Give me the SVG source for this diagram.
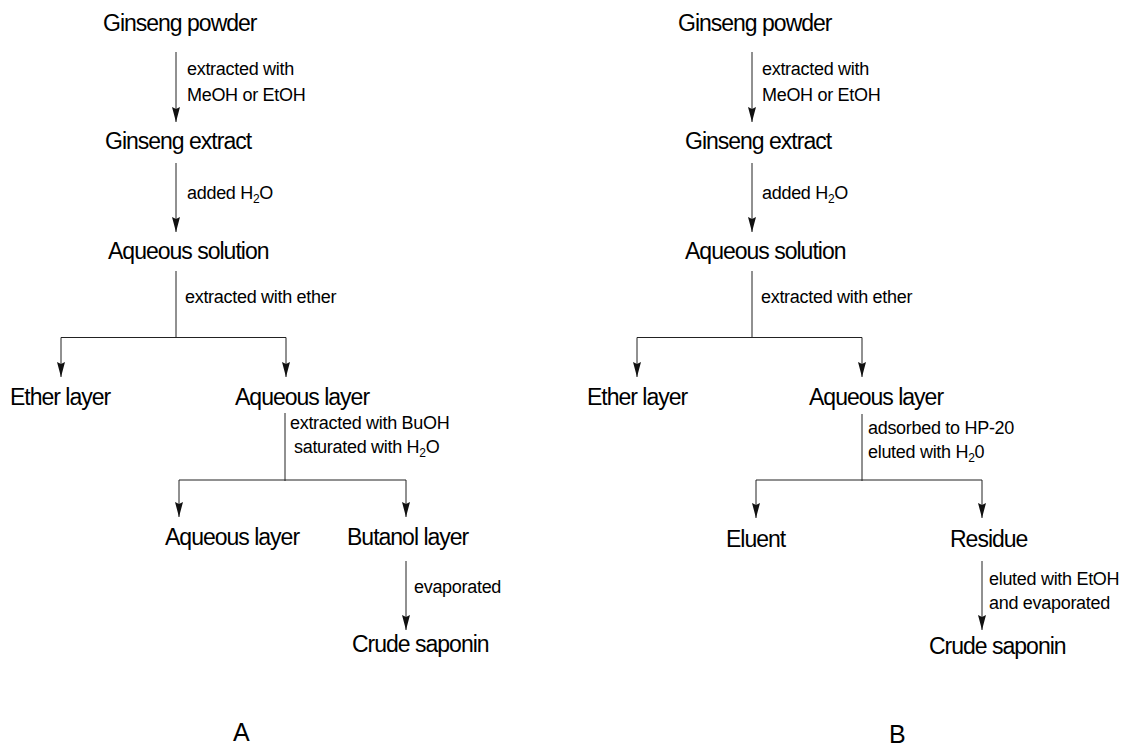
<svg xmlns="http://www.w3.org/2000/svg" width="1127" height="747" viewBox="0 0 1127 747">
<defs>
<style>
.node{font-family:"Liberation Sans",Arial,sans-serif;font-size:23px;letter-spacing:-1px;fill:#000}
.lbl{font-family:"Liberation Sans",Arial,sans-serif;font-size:18px;letter-spacing:-0.3px;fill:#000}
.sub{font-size:12px}
.cap{font-family:"Liberation Sans",Arial,sans-serif;font-size:25px;fill:#000}
.ln{stroke:#222;stroke-width:1;fill:none}
.arr{stroke:#222;stroke-width:1;fill:none;marker-end:url(#ah)}
</style>
<marker id="ah" markerUnits="userSpaceOnUse" viewBox="0 -5 16 10" markerWidth="16" markerHeight="10" refX="15" refY="0" orient="auto">
<path d="M0,-4 L15,0 L0,4 L2,0 Z" fill="#111"/>
</marker>
</defs>
<rect width="1127" height="747" fill="#fff"/>

<g id="connectors">
<line class="arr" x1="176" y1="52" x2="176" y2="122"/>
<line class="arr" x1="176" y1="163" x2="176" y2="232"/>
<line class="ln" x1="176" y1="271" x2="176" y2="337.5"/>
<line class="ln" x1="61" y1="337.5" x2="286" y2="337.5"/>
<line class="arr" x1="61" y1="337.5" x2="61" y2="377"/>
<line class="arr" x1="286" y1="337.5" x2="286" y2="377"/>
<line class="ln" x1="285" y1="413" x2="285" y2="481"/>
<line class="ln" x1="179" y1="480" x2="406" y2="480"/>
<line class="arr" x1="179" y1="480" x2="179" y2="517"/>
<line class="arr" x1="406" y1="480" x2="406" y2="517"/>
<line class="arr" x1="406" y1="561" x2="406" y2="630"/>
<line class="arr" x1="752" y1="52" x2="752" y2="122"/>
<line class="arr" x1="752" y1="163" x2="752" y2="232"/>
<line class="ln" x1="752" y1="271" x2="752" y2="337.5"/>
<line class="ln" x1="637" y1="337.5" x2="862" y2="337.5"/>
<line class="arr" x1="637" y1="337.5" x2="637" y2="377"/>
<line class="arr" x1="862" y1="337.5" x2="862" y2="377"/>
<line class="ln" x1="862" y1="414" x2="862" y2="481"/>
<line class="ln" x1="756" y1="480" x2="982" y2="480"/>
<line class="arr" x1="756" y1="480" x2="756" y2="518"/>
<line class="arr" x1="982" y1="480" x2="982" y2="518"/>
<line class="arr" x1="982" y1="561" x2="982" y2="630"/>
</g>

<g id="labels">
<text class="lbl" x="187" y="75">extracted with</text>
<text class="lbl" x="187" y="101">MeOH or EtOH</text>
<text class="lbl" x="187" y="199">added H<tspan class="sub" dy="4">2</tspan><tspan dy="-4">O</tspan></text>
<text class="lbl" x="185" y="303">extracted with ether</text>
<text class="lbl" x="290" y="429">extracted with BuOH</text>
<text class="lbl" x="294" y="453">saturated with H<tspan class="sub" dy="4">2</tspan><tspan dy="-4">O</tspan></text>
<text class="lbl" x="414" y="593">evaporated</text>
<text class="lbl" x="762" y="75">extracted with</text>
<text class="lbl" x="762" y="101">MeOH or EtOH</text>
<text class="lbl" x="762" y="199">added H<tspan class="sub" dy="4">2</tspan><tspan dy="-4">O</tspan></text>
<text class="lbl" x="761" y="303">extracted with ether</text>
<text class="lbl" x="868" y="434">adsorbed to HP-20</text>
<text class="lbl" x="868" y="458">eluted with H<tspan class="sub" dy="4">2</tspan><tspan dy="-4">0</tspan></text>
<text class="lbl" x="989" y="585">eluted with EtOH</text>
<text class="lbl" x="989" y="609">and evaporated</text>
</g>

<g id="A-powder"><text class="node" x="103" y="31">Ginseng powder</text></g>
<g id="A-extract"><text class="node" x="105" y="149">Ginseng extract</text></g>
<g id="A-solution"><text class="node" x="108" y="259">Aqueous solution</text></g>
<g id="A-ether"><text class="node" x="10" y="405">Ether layer</text></g>
<g id="A-aqueous1"><text class="node" x="235" y="405">Aqueous layer</text></g>
<g id="A-aqueous2"><text class="node" x="165" y="545">Aqueous layer</text></g>
<g id="A-butanol"><text class="node" x="347" y="545">Butanol layer</text></g>
<g id="A-crude"><text class="node" x="352" y="652">Crude saponin</text></g>
<g id="A-caption"><text class="cap" x="233" y="741">A</text></g>

<g id="B-powder"><text class="node" x="678" y="31">Ginseng powder</text></g>
<g id="B-extract"><text class="node" x="685" y="149">Ginseng extract</text></g>
<g id="B-solution"><text class="node" x="685" y="259">Aqueous solution</text></g>
<g id="B-ether"><text class="node" x="587" y="405">Ether layer</text></g>
<g id="B-aqueous1"><text class="node" x="809" y="405">Aqueous layer</text></g>
<g id="B-eluent"><text class="node" x="726" y="547">Eluent</text></g>
<g id="B-residue"><text class="node" x="950" y="547">Residue</text></g>
<g id="B-crude"><text class="node" x="929" y="654">Crude saponin</text></g>
<g id="B-caption"><text class="cap" x="889" y="743">B</text></g>
</svg>
